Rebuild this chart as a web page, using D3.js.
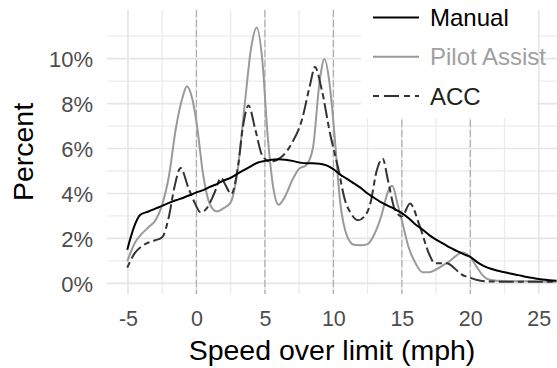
<!DOCTYPE html>
<html>
<head>
<meta charset="utf-8">
<script src="https://cdn.jsdelivr.net/npm/d3@7"></script>
<style>
  body { margin: 0; background: #fff; }
  svg { display: block; font-family: "Liberation Sans", Arial, sans-serif; }
</style>
</head>
<body>
<svg id="chart"></svg>
<script>
// speed over limit (mph) vs percent
const manualX = [-5.05, -4.5, -4.1, -3.5, -3, -2.5, -2, -1.5, -1, -0.5, 0, 0.5, 1, 1.5, 2, 2.5, 3, 3.5, 4, 4.5, 5, 5.5, 6, 6.5, 7, 7.5, 8, 8.5, 9, 9.5, 10, 10.5, 11, 11.5, 12, 12.5, 13, 13.5, 14, 14.5, 15, 15.5, 16, 16.5, 17, 17.5, 18, 18.5, 19, 19.5, 20, 20.5, 21, 21.5, 22, 22.5, 23, 23.5, 24, 24.5, 25, 25.5, 26, 26.3];
const manualY = [1.5, 2.6, 3.05, 3.2, 3.33, 3.45, 3.58, 3.7, 3.8, 3.92, 4.05, 4.15, 4.3, 4.42, 4.58, 4.7, 4.88, 5.05, 5.22, 5.38, 5.45, 5.5, 5.52, 5.5, 5.45, 5.38, 5.34, 5.34, 5.32, 5.25, 5.08, 4.84, 4.65, 4.45, 4.25, 4.0, 3.8, 3.6, 3.45, 3.3, 3.13, 2.9, 2.62, 2.4, 2.15, 1.95, 1.78, 1.6, 1.45, 1.3, 1.18, 0.95, 0.77, 0.65, 0.56, 0.5, 0.43, 0.37, 0.3, 0.25, 0.2, 0.16, 0.13, 0.12];

const pilotX = [-5.05, -4.5, -4, -3.5, -3, -2.5, -2, -1.5, -1, -0.7, -0.3, 0, 0.5, 1, 1.5, 2, 2.5, 3, 3.5, 4, 4.4, 4.8, 5.2, 5.6, 6, 6.5, 7, 7.5, 8, 8.5, 9, 9.35, 9.7, 10, 10.5, 11, 11.5, 12, 12.5, 13, 13.5, 14, 14.3, 14.7, 15, 15.5, 16, 16.5, 17, 17.5, 18, 18.5, 19, 19.4, 20, 20.5, 21, 21.5, 22, 23, 24, 25, 26.3];
const pilotY = [0.98, 1.8, 2.2, 2.5, 2.8, 3.5, 4.8, 6.9, 8.3, 8.77, 8.2, 7.2, 4.8, 3.5, 3.2, 3.35, 3.6, 5.0, 7.8, 10.5, 11.38, 10.0, 6.6, 4.3, 3.5, 3.9, 4.6, 5.1, 5.25, 6.0, 9.0, 9.98, 9.0, 7.2, 3.6, 2.1, 1.72, 1.7, 1.75, 2.2, 3.0, 4.1, 4.34, 3.5, 2.8, 1.6, 0.9, 0.5, 0.5, 0.62, 0.8, 1.0, 1.25, 1.38, 1.17, 0.7, 0.3, 0.15, 0.12, 0.1, 0.1, 0.09, 0.08];

const accX = [-5.05, -4.5, -4, -3.5, -3, -2.5, -2, -1.6, -1.15, -0.6, -0.1, 0.3, 0.75, 1.3, 1.8, 2.1, 2.55, 3.05, 3.4, 3.8, 4.3, 4.8, 5.4, 6.2, 7, 7.7, 8.3, 8.65, 9.15, 9.75, 10.35, 10.85, 11.3, 11.8, 12.3, 12.7, 13.15, 13.6, 14, 14.5, 15, 15.6, 16.3, 17, 17.4, 18.3, 18.8, 19.3, 20, 20.5, 21, 22, 23, 24, 25, 26.3];
const accY = [0.7, 1.35, 1.65, 1.82, 1.92, 2.05, 3.0, 4.3, 5.13, 4.27, 3.55, 3.16, 3.34, 4.0, 4.7, 4.4, 3.98, 5.27, 6.98, 7.91, 6.84, 5.7, 5.41, 5.62, 6.27, 7.27, 8.84, 9.62, 8.62, 6.69, 5.13, 3.7, 3.1, 2.81, 3.0, 3.55, 4.98, 5.55, 4.55, 3.27, 2.98, 3.55, 2.56, 1.3, 0.9, 0.9, 0.7, 0.42, 0.25, 0.15, 0.1, 0.08, 0.08, 0.08, 0.08, 0.07];

const xTicks = [-5, 0, 5, 10, 15, 20, 25];
const xTickLabels = ['-5', '0', '5', '10', '15', '20', '25'];
const yTicks = [0, 2, 4, 6, 8, 10];
const refLines = [0, 5, 10, 15, 20];
const seriesNames = ['Manual', 'Pilot Assist', 'ACC'];

const width = 557, height = 368;
const pLeft = 107, pRight = 557, pTop = 10, pBottom = 294;

const svg = d3.select('#chart').attr('width', width).attr('height', height);

const x = d3.scaleLinear().domain([-6.53, 26.33]).range([pLeft, pRight]);
const y = d3.scaleLinear().domain([-0.47, 12.16]).range([pBottom, pTop]);

// grid: minor first, then major
const grid = svg.append('g');
const minorX = d3.range(-2.5, 25, 5);
const minorY = d3.range(1, 12, 2);
grid.selectAll('.mx').data(minorX).enter().append('line')
  .attr('x1', d => x(d)).attr('x2', d => x(d)).attr('y1', pTop).attr('y2', pBottom)
  .attr('stroke', '#ececec').attr('stroke-width', 1.3);
grid.selectAll('.my').data(minorY).enter().append('line')
  .attr('y1', d => y(d)).attr('y2', d => y(d)).attr('x1', pLeft).attr('x2', pRight)
  .attr('stroke', '#ececec').attr('stroke-width', 1.3);
grid.selectAll('.gx').data(xTicks).enter().append('line')
  .attr('x1', d => x(d)).attr('x2', d => x(d)).attr('y1', pTop).attr('y2', pBottom)
  .attr('stroke', '#e6e6e6').attr('stroke-width', 1.7);
grid.selectAll('.gy').data(yTicks).enter().append('line')
  .attr('y1', d => y(d)).attr('y2', d => y(d)).attr('x1', pLeft).attr('x2', pRight)
  .attr('stroke', '#e6e6e6').attr('stroke-width', 1.7);

// dashed reference lines
svg.append('g').selectAll('line').data(refLines).enter().append('line')
  .attr('x1', d => x(d)).attr('x2', d => x(d)).attr('y1', pTop).attr('y2', pBottom)
  .attr('stroke', '#aaaaaa').attr('stroke-width', 1.1)
  .attr('stroke-dasharray', '7,3');

// legend background (covers grid in the top right)
svg.append('rect').attr('x', 361).attr('y', 0).attr('width', 176).attr('height', 118)
  .attr('fill', '#fff');

// axes text
const xAxis = d3.axisBottom(x).tickValues(xTicks).tickSize(0).tickPadding(0)
  .tickFormat((d, i) => xTickLabels[i]);
const gx = svg.append('g').attr('transform', `translate(0,${pBottom})`).call(xAxis);
gx.select('.domain').remove();
gx.selectAll('text').attr('y', 32).attr('dy', 0)
  .attr('font-size', 21.5).attr('fill', '#4d4d4d');
gx.attr('font-family', null).attr('font-size', null);

const yAxis = d3.axisLeft(y).tickValues(yTicks).tickSize(0).tickPadding(0)
  .tickFormat(d => d + '%');
const gy = svg.append('g').attr('transform', 'translate(93,0)').call(yAxis);
gy.select('.domain').remove();
gy.selectAll('text').attr('x', 0).attr('dy', '0.36em')
  .attr('font-size', 22).attr('fill', '#4d4d4d');
gy.attr('font-family', null).attr('font-size', null);

svg.append('text').attr('x', (pLeft + pRight) / 2).attr('y', 360)
  .attr('text-anchor', 'middle').attr('font-size', 28.5).attr('fill', '#000')
  .text('Speed over limit (mph)');
svg.append('text').attr('transform', `translate(33,${(pTop + pBottom) / 2}) rotate(-90)`)
  .attr('text-anchor', 'middle').attr('font-size', 28.5).attr('fill', '#000')
  .text('Percent');

// lines
const line = d3.line().x(d => x(d[0])).y(d => y(d[1])).curve(d3.curveMonotoneX);
const series = [
  { pts: d3.zip(manualX, manualY), color: '#000000', dash: null, text: '#000000' },
  { pts: d3.zip(pilotX, pilotY), color: '#9a9a9a', dash: null, text: '#a0a0a0' },
  { pts: d3.zip(accX, accY), color: '#333333', dash: '6,4,15,4', text: '#222222' }
];
const order = [1, 2, 0];
order.forEach(i => {
  const s = series[i];
  svg.append('path').attr('d', line(s.pts)).attr('fill', 'none')
    .attr('stroke', s.color).attr('stroke-width', 2)
    .attr('stroke-dasharray', s.dash);
});

// legend
const leg = svg.append('g');
seriesNames.forEach((name, i) => {
  const s = series[i];
  const ly = 17.5 + i * 39.3;
  leg.append('line').attr('x1', 373).attr('x2', 419).attr('y1', ly).attr('y2', ly)
    .attr('stroke', s.color).attr('stroke-width', 2)
    .attr('stroke-dasharray', s.dash ? '6,5,15,5' : null);
  leg.append('text').attr('x', 430).attr('y', ly).attr('dy', '0.36em')
    .attr('font-size', 24).attr('fill', s.text).text(name);
});
</script>
</body>
</html>
